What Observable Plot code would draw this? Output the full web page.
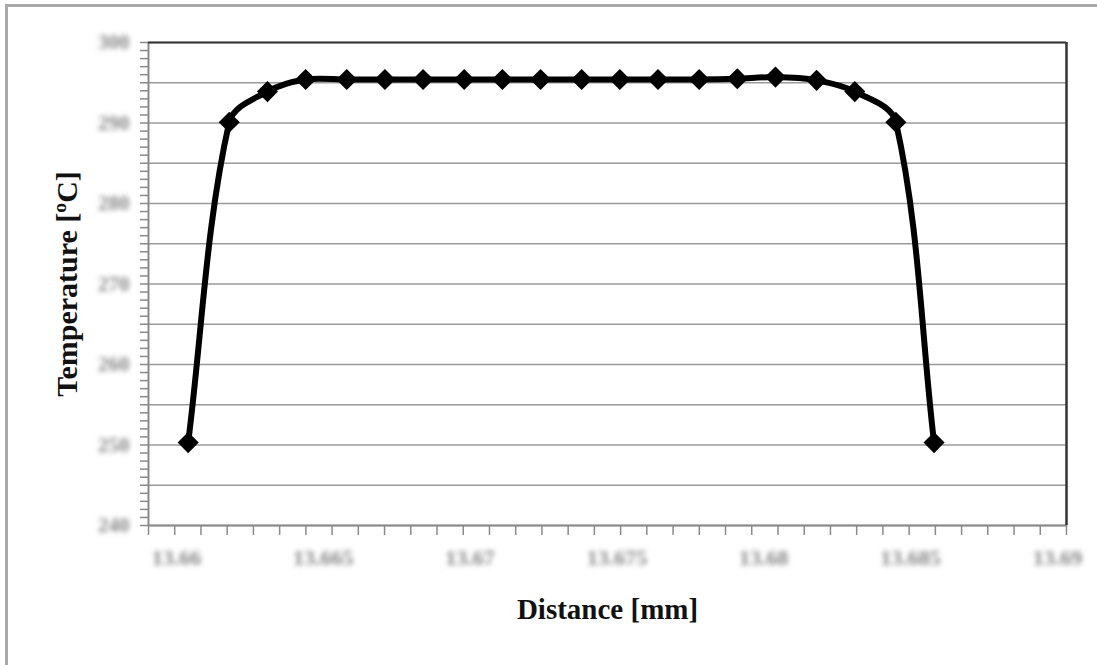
<!DOCTYPE html>
<html>
<head>
<meta charset="utf-8">
<script src="https://cdn.jsdelivr.net/npm/d3@7"></script>
<script src="https://cdn.jsdelivr.net/npm/@observablehq/plot@0.6"></script>
<style>
  html, body { margin: 0; padding: 0; background: #fff; }
  #wrap { position: relative; width: 1097px; height: 665px; overflow: hidden; }
  #frame { position: absolute; left: 5px; top: 4px; width: 1200px; height: 700px;
           border-left: 3px solid #a9a9a9; border-top: 3px solid #a9a9a9; }
  #chart { position: absolute; left: 0; top: 0; }
  #chart g[aria-label$="tick label"] { filter: blur(2.6px); }
</style>
</head>
<body>
<div id="wrap">
  <div id="frame"></div>
  <div id="chart"></div>
</div>
<script>
// ---- data ----
const distance = [13.6604, 13.6618, 13.6631, 13.6644, 13.6658, 13.6671, 13.6684, 13.6698, 13.6711, 13.6724,
                  13.6738, 13.6751, 13.6764, 13.6778, 13.6791, 13.6804, 13.6818, 13.6831, 13.6845, 13.6858];
const temperature = [250.3, 290.1, 293.9, 295.4, 295.4, 295.4, 295.4, 295.4, 295.4, 295.4,
                     295.4, 295.4, 295.4, 295.4, 295.5, 295.7, 295.3, 293.9, 290.1, 250.3];
const xTickLabels = [13.66, 13.665, 13.67, 13.675, 13.68, 13.685, 13.69];
const yTickLabels = [240, 250, 260, 270, 280, 290, 300];
const xDomain = [13.65905, 13.69031];
const yDomain = [240, 300];

const data = distance.map((d, i) => ({distance: d, temperature: temperature[i]}));
const xStep = (xDomain[1] - xDomain[0]) / 35;
const xMinor = d3.range(36).map(i => xDomain[0] + i * xStep);
const yMinor = d3.range(yDomain[0], yDomain[1] + 0.5, 1);
const yGrid = d3.range(yDomain[0], yDomain[1] + 0.5, 5);

// Spreadsheet-style smoothed line: tangent along neighbours, handle length proportional to segment length
function smoothCurve(context) {
  let pts = [];
  return {
    areaStart() {}, areaEnd() {},
    lineStart() { pts = []; },
    point(x, y) { pts.push([+x, +y]); },
    lineEnd() {
      const n = pts.length;
      if (!n) return;
      context.moveTo(pts[0][0], pts[0][1]);
      for (let i = 0; i < n - 1; i++) {
        const p0 = pts[i - 1] || pts[i], p1 = pts[i], p2 = pts[i + 1], p3 = pts[i + 2] || pts[i + 1];
        const seg = Math.hypot(p2[0] - p1[0], p2[1] - p1[1]);
        const a = [p2[0] - p0[0], p2[1] - p0[1]], b = [p3[0] - p1[0], p3[1] - p1[1]];
        const na = Math.hypot(a[0], a[1]) || 1, nb = Math.hypot(b[0], b[1]) || 1;
        const k = seg * 0.33;
        context.bezierCurveTo(p1[0] + a[0] / na * k, p1[1] + a[1] / na * k,
                              p2[0] - b[0] / nb * k, p2[1] - b[1] / nb * k,
                              p2[0], p2[1]);
      }
    }
  };
}

const plot = Plot.plot({
  width: 1097,
  height: 665,
  marginLeft: 148,
  marginRight: 31,
  marginTop: 42,
  marginBottom: 140,
  style: {background: "transparent", overflow: "visible"},
  x: {domain: xDomain},
  y: {domain: yDomain},
  marks: [
    Plot.gridY(yGrid, {stroke: "#9a9a9a", strokeOpacity: 1, strokeWidth: 1.5}),
    Plot.axisY({ticks: yMinor, tickSize: 8, tickFormat: () => "", stroke: "#8a8a8a", strokeWidth: 1.5, label: null}),
    Plot.axisX({ticks: xMinor, tickSize: 10, tickFormat: () => "", stroke: "#8a8a8a", strokeWidth: 1.5, label: null}),
    Plot.axisY({ticks: yTickLabels, tickSize: 0, tickPadding: 19, fontSize: 21, fontWeight: "bold", fill: "#888",
                fontFamily: "Liberation Serif", tickFormat: d => String(d), label: null}),
    Plot.axisX({ticks: xTickLabels, tickSize: 0, tickPadding: 24, fontSize: 22, fontWeight: "bold", fill: "#888",
                fontFamily: "Liberation Serif", tickFormat: d => String(d), label: null}),
    Plot.ruleX([xDomain[0]], {stroke: "#8a8a8a", strokeWidth: 2}),
    Plot.ruleY([yDomain[0]], {stroke: "#8a8a8a", strokeWidth: 2}),
    Plot.ruleY([yDomain[1]], {stroke: "#333", strokeWidth: 2}),
    Plot.ruleX([xDomain[1]], {stroke: "#333", strokeWidth: 2.5}),
    Plot.line(data, {x: "distance", y: "temperature", curve: smoothCurve, stroke: "black", strokeWidth: 6}),
    Plot.dot(data, {x: "distance", y: "temperature", symbol: "diamond2", r: 9.5, fill: "black", stroke: "none"}),
    Plot.text(["Temperature [ºC]"], {frameAnchor: "left", dx: -81, rotate: -90, textAnchor: "middle", fontSize: 30,
              fontWeight: "bold", fontFamily: "Liberation Serif", fill: "#111"}),
    Plot.text(["Distance [mm]"], {frameAnchor: "bottom", dy: 93, textAnchor: "middle", fontSize: 29,
              fontWeight: "bold", fontFamily: "Liberation Serif", fill: "#111"})
  ]
});
document.getElementById("chart").appendChild(plot);
</script>
</body>
</html>
